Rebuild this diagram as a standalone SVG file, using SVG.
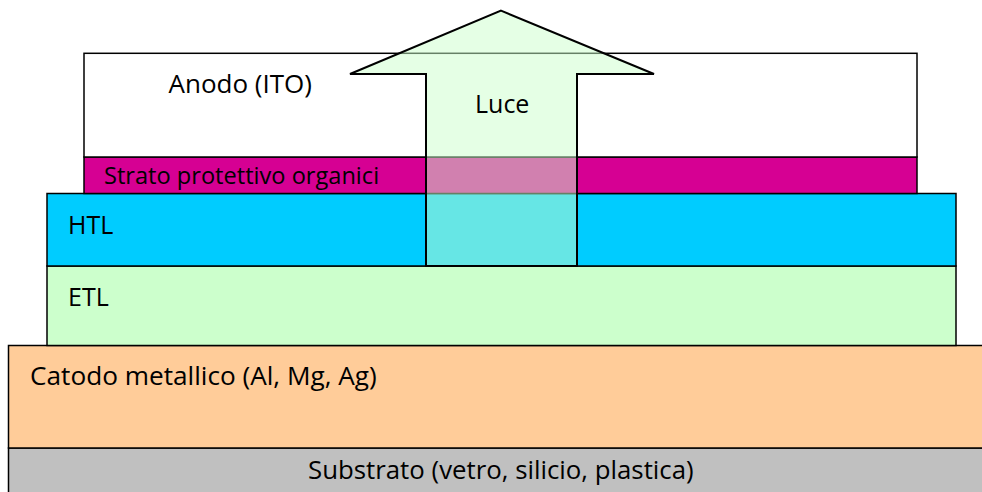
<svg xmlns="http://www.w3.org/2000/svg" width="982" height="492" viewBox="0 0 982 492">
<style>
.layer{stroke:#000;stroke-width:1.5}
.lbl{font-family:"Open Sans","Liberation Sans",sans-serif;fill:#000}
</style>
<rect width="982" height="492" fill="#fff"/>
<g id="substrato">
<rect class="layer" x="8.5" y="448" width="980" height="50" fill="#C0C0C0"/>
<text class="lbl" x="308" y="478.5" font-size="25.8">Substrato (vetro, silicio, plastica)</text>
</g>
<g id="catodo">
<rect class="layer" x="8.5" y="345.5" width="980" height="102.5" fill="#FFCC99"/>
<text class="lbl" x="30" y="385" font-size="26.2">Catodo metallico (Al, Mg, Ag)</text>
</g>
<g id="etl">
<rect class="layer" x="47" y="266" width="909" height="79.5" fill="#CCFFCC"/>
<text class="lbl" x="68" y="305.5" font-size="25">ETL</text>
</g>
<g id="htl">
<rect class="layer" x="47" y="193.5" width="909" height="72.5" fill="#00CCFF"/>
<text class="lbl" x="68" y="233.5" font-size="25">HTL</text>
</g>
<g id="strato">
<rect class="layer" x="84" y="157" width="833" height="36.5" fill="#D60093"/>
<text class="lbl" x="104" y="184" font-size="23.6">Strato protettivo organici</text>
</g>
<g id="anodo">
<rect class="layer" x="84" y="53.3" width="833" height="103.7" fill="#FFFFFF"/>
<text class="lbl" x="168.5" y="92.7" font-size="26">Anodo (ITO)</text>
</g>
<g id="luce">
<polygon points="501,10.7 654,74 577,74 577,266 426,266 426,74 350,74" fill="#CCFFCC" fill-opacity="0.5" stroke="#000" stroke-width="2" stroke-linejoin="miter"/>
<text class="lbl" x="475" y="113" font-size="25">Luce</text>
</g>
</svg>
